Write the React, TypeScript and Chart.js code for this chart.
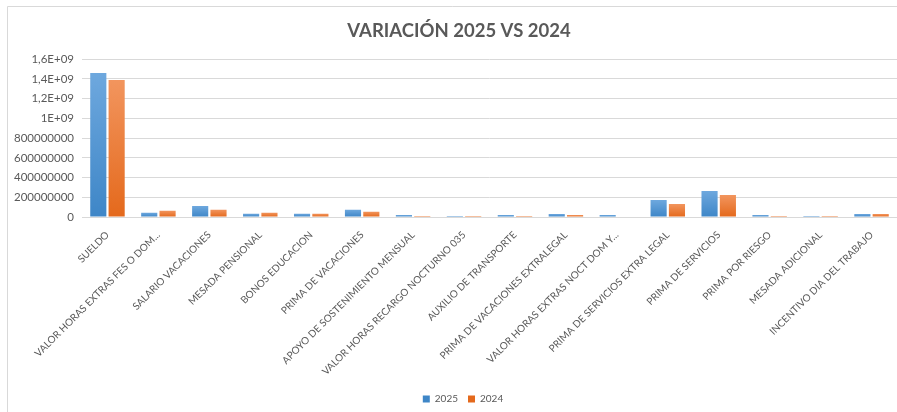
import React, { useEffect, useRef } from "react";
import { Chart, registerables } from "chart.js";

Chart.register(...registerables);

const categories = [
  "SUELDO",
  "VALOR HORAS EXTRAS FES O DOM...",
  "SALARIO VACACIONES",
  "MESADA PENSIONAL",
  "BONOS EDUCACION",
  "PRIMA DE VACACIONES",
  "APOYO DE SOSTENIMIENTO MENSUAL",
  "VALOR HORAS RECARGO NOCTURNO 035",
  "AUXILIO DE TRANSPORTE",
  "PRIMA DE VACACIONES EXTRALEGAL",
  "VALOR HORAS EXTRAS NOCT DOM Y...",
  "PRIMA DE SERVICIOS EXTRA LEGAL",
  "PRIMA DE SERVICIOS",
  "PRIMA POR RIESGO",
  "MESADA ADICIONAL",
  "INCENTIVO DIA DEL TRABAJO",
];

const values2025 = [
  1460000000, 44000000, 111000000, 34000000, 34000000, 74000000, 20000000,
  10000000, 20000000, 30000000, 20000000, 172000000, 263000000, 20000000,
  10000000, 30000000,
];

const values2024 = [
  1390000000, 64000000, 74000000, 44000000, 33000000, 54000000, 10000000,
  10000000, 11000000, 20000000, 0, 132000000, 223000000, 10000000, 10000000,
  30000000,
];

const seriesNames = ["2025", "2024"];
const yMax = 1600000000;
const yStep = 200000000;

const FONT = "Lato, 'Open Sans', sans-serif";
const TEXT = "#595959";

function formatTick(v: number): string {
  if (v >= 1e9) {
    const m = v / 1e9;
    const s = Number.isInteger(m) ? String(m) : m.toFixed(1).replace(".", ",");
    return s + "E+09";
  }
  return String(v);
}

function gradientFill(top: string, bottom: string) {
  return (ctx: any) => {
    const chart = ctx.chart;
    const y = chart.scales && chart.scales.y;
    if (!y || ctx.type !== "data") return bottom;
    const v = ctx.raw as number;
    const yTop = y.getPixelForValue(v);
    const yBot = y.getPixelForValue(0);
    if (!isFinite(yTop) || !isFinite(yBot) || Math.abs(yBot - yTop) < 0.5) return top;
    const g = chart.ctx.createLinearGradient(0, yTop, 0, yBot);
    g.addColorStop(0, top);
    g.addColorStop(1, bottom);
    return g;
  };
}

const TITLE_SHIFT = 7;
const LEGEND_SHIFT = 11;

const framePlugin = {
  id: "frame",
  afterLayout(chart: any) {
    chart.$shifted = false;
  },
  beforeDraw(chart: any) {
    if (!chart.$shifted) {
      chart.$shifted = true;
      const t = chart.titleBlock;
      if (t) {
        t.left += TITLE_SHIFT;
        t.right += TITLE_SHIFT;
      }
      const l = chart.legend;
      if (l) {
        l.left += LEGEND_SHIFT;
        l.right += LEGEND_SHIFT;
      }
    }
    const c = chart.ctx;
    c.save();
    c.fillStyle = "#ffffff";
    c.fillRect(0, 0, chart.width, chart.height);
    c.strokeStyle = "#D9D9D9";
    c.lineWidth = 1;
    c.beginPath();
    c.moveTo(0.5, chart.height);
    c.lineTo(0.5, 0.5);
    c.lineTo(chart.width, 0.5);
    c.stroke();
    c.restore();
  },
};

export default function App() {
  const ref = useRef<HTMLCanvasElement | null>(null);

  useEffect(() => {
    if (!ref.current) return;
    const chart = new Chart(ref.current, {
      type: "bar",
      data: {
        labels: categories,
        datasets: [
          {
            label: seriesNames[0],
            data: values2025,
            backgroundColor: gradientFill("#6EA8DE", "#3E86C7"),
            borderWidth: 0,
            categoryPercentage: 0.72,
            barPercentage: 0.88,
          },
          {
            label: seriesNames[1],
            data: values2024,
            backgroundColor: gradientFill("#F2955E", "#E4691C"),
            borderWidth: 0,
            categoryPercentage: 0.72,
            barPercentage: 0.88,
          },
        ],
      },
      options: {
        animation: false,
        responsive: false,
        maintainAspectRatio: false,
        layout: { padding: { left: 0, right: 0, top: 0, bottom: 0 } },
        plugins: {
          title: {
            display: true,
            text: "VARIACIÓN 2025 VS 2024",
            color: TEXT,
            font: { family: FONT, size: 18.5, weight: "bold" },
            padding: { top: 14, bottom: 17 },
          },
          legend: {
            position: "bottom",
            labels: {
              color: TEXT,
              font: { family: FONT, size: 10 },
              boxWidth: 7,
              boxHeight: 7,
              padding: 10,
            },
          },
          tooltip: { enabled: false },
        },
        scales: {
          x: {
            grid: { display: false },
            border: { display: true, color: "#D9D9D9" },
            ticks: {
              color: TEXT,
              font: { family: FONT, size: 10 },
              minRotation: 45,
              maxRotation: 45,
              autoSkip: false,
              padding: 4,
            },
            afterFit(scale: any) {
              scale.height = 167;
            },
          },
          y: {
            min: 0,
            max: yMax,
            grid: { color: "#D9D9D9", drawTicks: false },
            border: { display: false },
            ticks: {
              stepSize: yStep,
              color: TEXT,
              font: { family: FONT, size: 11.5 },
              padding: 8,
              callback: (v: any) => formatTick(Number(v)),
            },
            afterFit(scale: any) {
              scale.width = 75;
            },
          },
        },
      },
      plugins: [framePlugin],
    });
    return () => chart.destroy();
  }, []);

  return (
    <div style={{ position: "fixed", left: 7, top: 6, width: 890, height: 408 }}>
      <canvas ref={ref} width={890} height={408} style={{ display: "block" }} />
    </div>
  );
}
